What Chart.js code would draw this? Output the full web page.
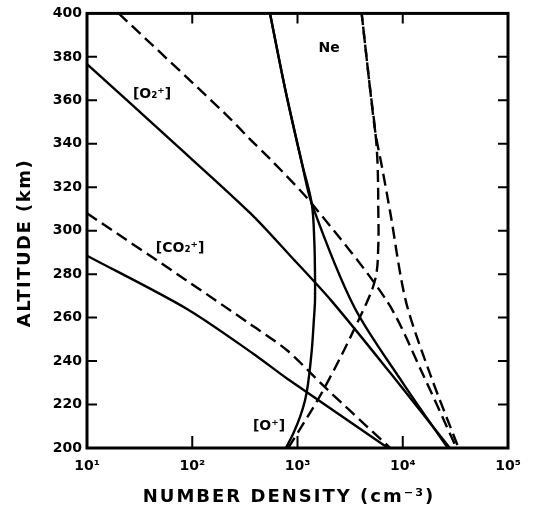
<!DOCTYPE html>
<html>
<head>
<meta charset="utf-8">
<script src="https://cdn.jsdelivr.net/npm/chart.js@4.4.1/dist/chart.umd.min.js"></script>
<style>
  html, body { margin: 0; padding: 0; background: #fff; }
  canvas { display: block; }
</style>
</head>
<body>
<canvas id="density_chart" width="533" height="516"></canvas>
<script>
// tick values / labels
const altitudeTicks = [200, 220, 240, 260, 280, 300, 320, 340, 360, 380, 400];
const decadeTicks = [10, 100, 1000, 10000, 100000];
const decadeLabels = ["10\u00B9", "10\u00B2", "10\u00B3", "10\u2074", "10\u2075"];

// [O2+] solid / dashed
const o2pSolidAlt = [376.7, 342, 308.2, 288.6, 267.6, 234.7, 200];
const o2pSolidDen = [10, 61.5, 354, 849, 2113, 7570, 28000];
const o2pDashAlt = [400, 353, 342, 333, 312.5, 267.6, 234, 200];
const o2pDashDen = [20, 214, 355, 550, 1365, 7080, 15500, 32400];

// [CO2+] solid / dashed
const co2pSolidAlt = [288.5, 264, 243.4, 232, 200];
const co2pSolidDen = [10, 89, 380, 794, 7240];
const co2pDashAlt = [308, 277, 257, 245, 228, 200];
const co2pDashDen = [10, 89, 355, 794, 1820, 7590];

// [O+] solid / dashed
const opSolidAlt = [200, 206.7, 214.3, 221.9, 229.5, 244.7, 260, 267.6, 280, 295, 312.5, 331.5, 365.8, 400];
const opSolidDen = [776, 912, 1057, 1178, 1259, 1365, 1435, 1466, 1466, 1445, 1365, 1096, 759, 548];
const opDashAlt = [200, 203.7, 228, 263, 278, 293.5, 308.7, 330, 345, 365, 400];
const opDashDen = [813, 912, 1820, 4170, 5500, 5860, 5860, 5770, 5500, 4900, 4070];

// Ne solid / dashed
const neSolidAlt = [400, 365.8, 331.5, 312.5, 265, 230, 200];
const neSolidDen = [548, 759, 1096, 1365, 3450, 10000, 26800];
const neDashAlt = [400, 365, 345, 330, 308.7, 267.6, 234, 200];
const neDashDen = [4070, 4900, 5500, 6310, 7590, 10700, 18200, 33900];

// curve labels: text, density, altitude
const curveLabels = [
    ["[O\u2082\u207A]", 41.5, 362.6],
    ["[CO\u2082\u207A]", 76.6, 291.8],
    ["[O\u207A]", 536, 210],
    ["Ne", 1995, 384]
];

const FONT = "'DejaVu Sans', sans-serif";

function pts(den, alt) {
    return den.map((d, i) => ({ x: d, y: alt[i] }));
}

function series(label, den, alt, dashed, tension) {
    return {
        label: label,
        data: pts(den, alt),
        borderColor: "#000",
        borderWidth: 2.4,
        borderDash: dashed ? [12, 6] : [],
        pointRadius: 0,
        tension: tension,
        fill: false
    };
}

const frame = {
    id: "frame",
    afterDraw(chart) {
        const { ctx, chartArea: a, scales: { x, y } } = chart;
        ctx.save();
        ctx.strokeStyle = "#000";
        ctx.lineWidth = 3;
        ctx.strokeRect(a.left, a.top, a.right - a.left, a.bottom - a.top);

        // inward tick marks
        ctx.lineWidth = 2;
        ctx.beginPath();
        altitudeTicks.slice(1, -1).forEach(v => {
            const py = y.getPixelForValue(v);
            ctx.moveTo(a.left, py); ctx.lineTo(a.left + 10, py);
            ctx.moveTo(a.right, py); ctx.lineTo(a.right - 10, py);
        });
        decadeTicks.slice(1, -1).forEach(v => {
            const px = x.getPixelForValue(v);
            ctx.moveTo(px, a.bottom); ctx.lineTo(px, a.bottom - 12);
            ctx.moveTo(px, a.top); ctx.lineTo(px, a.top + 10);
        });
        ctx.stroke();

        ctx.fillStyle = "#000";
        ctx.textAlign = "center";
        ctx.textBaseline = "middle";

        // curve labels
        ctx.font = "bold 14px " + FONT;
        curveLabels.forEach(([t, d, h]) => {
            ctx.fillText(t, x.getPixelForValue(d), y.getPixelForValue(h));
        });

        // axis titles
        ctx.font = "bold 18px " + FONT;
        ctx.letterSpacing = "2px";
        ctx.fillText("NUMBER DENSITY (cm\u207B\u00B3)", 289, 497);
        ctx.translate(25, 243);
        ctx.rotate(-Math.PI / 2);
        ctx.letterSpacing = "1.5px";
        ctx.fillText("ALTITUDE (km)", 0, 0);
        ctx.restore();
    }
};

const ctx = document.getElementById("density_chart");
const density_chart = new Chart(ctx, {
    type: "line",
    data: {
        datasets: [
            series("O2+ solid", o2pSolidDen, o2pSolidAlt, false, 0.3),
            series("O2+ dashed", o2pDashDen, o2pDashAlt, true, 0.3),
            series("CO2+ solid", co2pSolidDen, co2pSolidAlt, false, 0.3),
            series("CO2+ dashed", co2pDashDen, co2pDashAlt, true, 0.3),
            series("O+ solid", opSolidDen, opSolidAlt, false, 0.35),
            series("O+ dashed", opDashDen, opDashAlt, true, 0.35),
            series("Ne solid", neSolidDen, neSolidAlt, false, 0.3),
            series("Ne dashed", neDashDen, neDashAlt, true, 0.3)
        ]
    },
    options: {
        responsive: false,
        animation: false,
        layout: { padding: { top: 10, right: 25, left: 0, bottom: 0 } },
        plugins: {
            legend: { display: false },
            tooltip: { enabled: false }
        },
        scales: {
            x: {
                type: "logarithmic",
                min: 10,
                max: 100000,
                afterBuildTicks: s => { s.ticks = decadeTicks.map(v => ({ value: v })); },
                afterFit: s => { s.height = 68; },
                grid: { display: false, drawTicks: false },
                border: { display: false },
                ticks: {
                    autoSkip: false,
                    maxRotation: 0,
                    padding: 10,
                    color: "#000",
                    font: { family: FONT, size: 14, weight: "bold" },
                    callback: v => decadeLabels[decadeTicks.indexOf(v)]
                }
            },
            y: {
                min: 200,
                max: 400,
                afterBuildTicks: s => { s.ticks = altitudeTicks.map(v => ({ value: v })); },
                afterFit: s => { s.width = 87; },
                grid: { display: false, drawTicks: false },
                border: { display: false },
                ticks: {
                    padding: 5,
                    color: "#000",
                    font: { family: FONT, size: 14, weight: "bold" }
                }
            }
        }
    },
    plugins: [frame]
});
</script>
</body>
</html>
